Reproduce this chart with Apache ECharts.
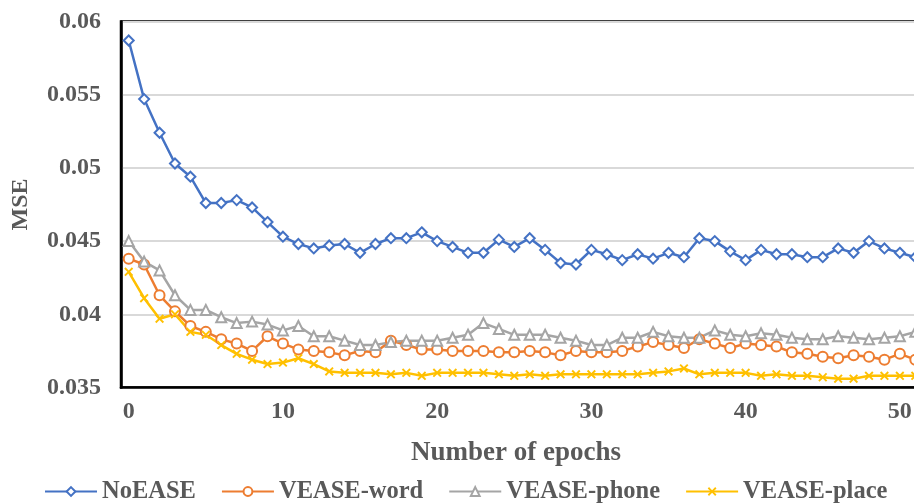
<!DOCTYPE html>
<html><head><meta charset="utf-8">
<script src="https://cdn.jsdelivr.net/npm/echarts@6/dist/echarts.min.js"></script>
<style>
html,body{margin:0;padding:0;overflow:hidden;background:#fff;width:914px;height:504px}
#c{width:940px;height:504px}
</style>
</head><body><div id="c"></div><script>
const epochs = ['0','1','2','3','4','5','6','7','8','9','10','11','12','13','14','15','16','17','18','19','20','21','22','23','24','25','26','27','28','29','30','31','32','33','34','35','36','37','38','39','40','41','42','43','44','45','46','47','48','49','50','51'];
const noEASE = [0.0587,0.0547,0.0524,0.0503,0.0494,0.0476,0.0476,0.0478,0.0473,0.0463,0.0453,0.0448,0.0445,0.0447,0.0448,0.0442,0.0448,0.0452,0.0452,0.0456,0.0450,0.0446,0.0442,0.0442,0.0451,0.0446,0.0452,0.0444,0.0435,0.0434,0.0444,0.0441,0.0437,0.0441,0.0438,0.0442,0.0439,0.0452,0.0450,0.0443,0.0437,0.0444,0.0441,0.0441,0.0439,0.0439,0.0445,0.0442,0.0450,0.0445,0.0442,0.0439];
const veaseWord = [0.0438,0.0434,0.0413,0.0402,0.0392,0.0388,0.0383,0.0380,0.0375,0.0385,0.0380,0.0376,0.0375,0.0374,0.0372,0.0375,0.0374,0.0382,0.0379,0.0376,0.0376,0.0375,0.0375,0.0375,0.0374,0.0374,0.0375,0.0374,0.0372,0.0375,0.0374,0.0374,0.0375,0.0378,0.0381,0.0379,0.0377,0.0383,0.0380,0.0377,0.0380,0.0379,0.0378,0.0374,0.0373,0.0371,0.0370,0.0372,0.0371,0.0369,0.0373,0.0369];
const veasePhone = [0.0450,0.0436,0.0430,0.0413,0.0403,0.0403,0.0398,0.0394,0.0395,0.0393,0.0389,0.0392,0.0385,0.0385,0.0382,0.0379,0.0379,0.0381,0.0382,0.0382,0.0382,0.0384,0.0386,0.0394,0.0390,0.0386,0.0386,0.0386,0.0384,0.0382,0.0379,0.0379,0.0384,0.0384,0.0388,0.0385,0.0384,0.0384,0.0389,0.0386,0.0385,0.0387,0.0386,0.0384,0.0383,0.0383,0.0385,0.0384,0.0383,0.0384,0.0385,0.0388];
const veasePlace = [0.0429,0.0411,0.0397,0.0400,0.0388,0.0386,0.0379,0.0373,0.0369,0.0366,0.0367,0.0370,0.0366,0.0361,0.0360,0.0360,0.0360,0.0359,0.0360,0.0358,0.0360,0.0360,0.0360,0.0360,0.0359,0.0358,0.0359,0.0358,0.0359,0.0359,0.0359,0.0359,0.0359,0.0359,0.0360,0.0361,0.0363,0.0359,0.0360,0.0360,0.0360,0.0358,0.0359,0.0358,0.0358,0.0357,0.0356,0.0356,0.0358,0.0358,0.0358,0.0358];
const seriesNames = ['NoEASE','VEASE-word','VEASE-phone','VEASE-place'];
const yTicks = {min:0.035, max:0.06, interval:0.005};

const FONT = 'Liberation Serif';
const TXT = '#595959';
const xPath = 'path://M0,1.5L1.5,0L5,3.5L8.5,0L10,1.5L6.5,5L10,8.5L8.5,10L5,6.5L1.5,10L0,8.5L3.5,5Z';

const chart = echarts.init(document.getElementById('c'), null, {renderer:'canvas'});
function mk(name, data, color, symbol, size, empty){
  return {
    name, type:'line', data, symbol, symbolSize:size, showSymbol:true,
    lineStyle:{color, width:2.5},
    itemStyle: empty ? {color, borderColor:color, borderWidth:1.5} : {color, borderWidth:0},
    emphasis:{disabled:true}, animation:false, z:2
  };
}
chart.setOption({
  animation:false,
  backgroundColor:'#fff',
  grid:{left:121, right:17, top:21.5, bottom:116.5, show:true, borderColor:'#000', borderWidth:2.5, backgroundColor:'transparent'},
  legend:{
    left:39, top:474, itemWidth:52, itemHeight:11, itemGap:25,
    textStyle:{fontFamily:FONT, fontSize:24.5, fontWeight:'bold', color:TXT},
    data:seriesNames
  },
  xAxis:{
    type:'category', data:epochs, boundaryGap:true,
    name:'Number of epochs', nameLocation:'middle', nameGap:52,
    nameTextStyle:{fontFamily:FONT, fontSize:27, fontWeight:'bold', color:TXT, padding:[0,12,0,0]},
    axisLine:{lineStyle:{color:'#000', width:2.5}},
    axisTick:{show:false},
    axisLabel:{interval:9, fontFamily:FONT, fontSize:24, fontWeight:'bold', color:TXT, margin:12},
    splitLine:{show:false}
  },
  yAxis:{
    type:'value', min:yTicks.min, max:yTicks.max, interval:yTicks.interval,
    name:'MSE', nameLocation:'middle', nameGap:88,
    nameTextStyle:{fontFamily:FONT, fontSize:24, fontWeight:'bold', color:TXT},
    axisLine:{show:true, lineStyle:{color:'#000', width:2.5}},
    axisTick:{show:false},
    axisLabel:{fontFamily:FONT, fontSize:24, fontWeight:'bold', color:TXT, margin:20,
      formatter:v=>String(+v.toFixed(3))},
    splitLine:{lineStyle:{color:'#d9d9d9', width:2}}
  },
  series:[
    mk(seriesNames[0], noEASE, '#4472C4', 'emptyDiamond', 10, true),
    mk(seriesNames[1], veaseWord, '#ED7D31', 'emptyCircle', 10, true),
    mk(seriesNames[2], veasePhone, '#A5A5A5', 'emptyTriangle', 10, true),
    mk(seriesNames[3], veasePlace, '#FFC000', xPath, 9, false)
  ]
});
</script></body></html>
